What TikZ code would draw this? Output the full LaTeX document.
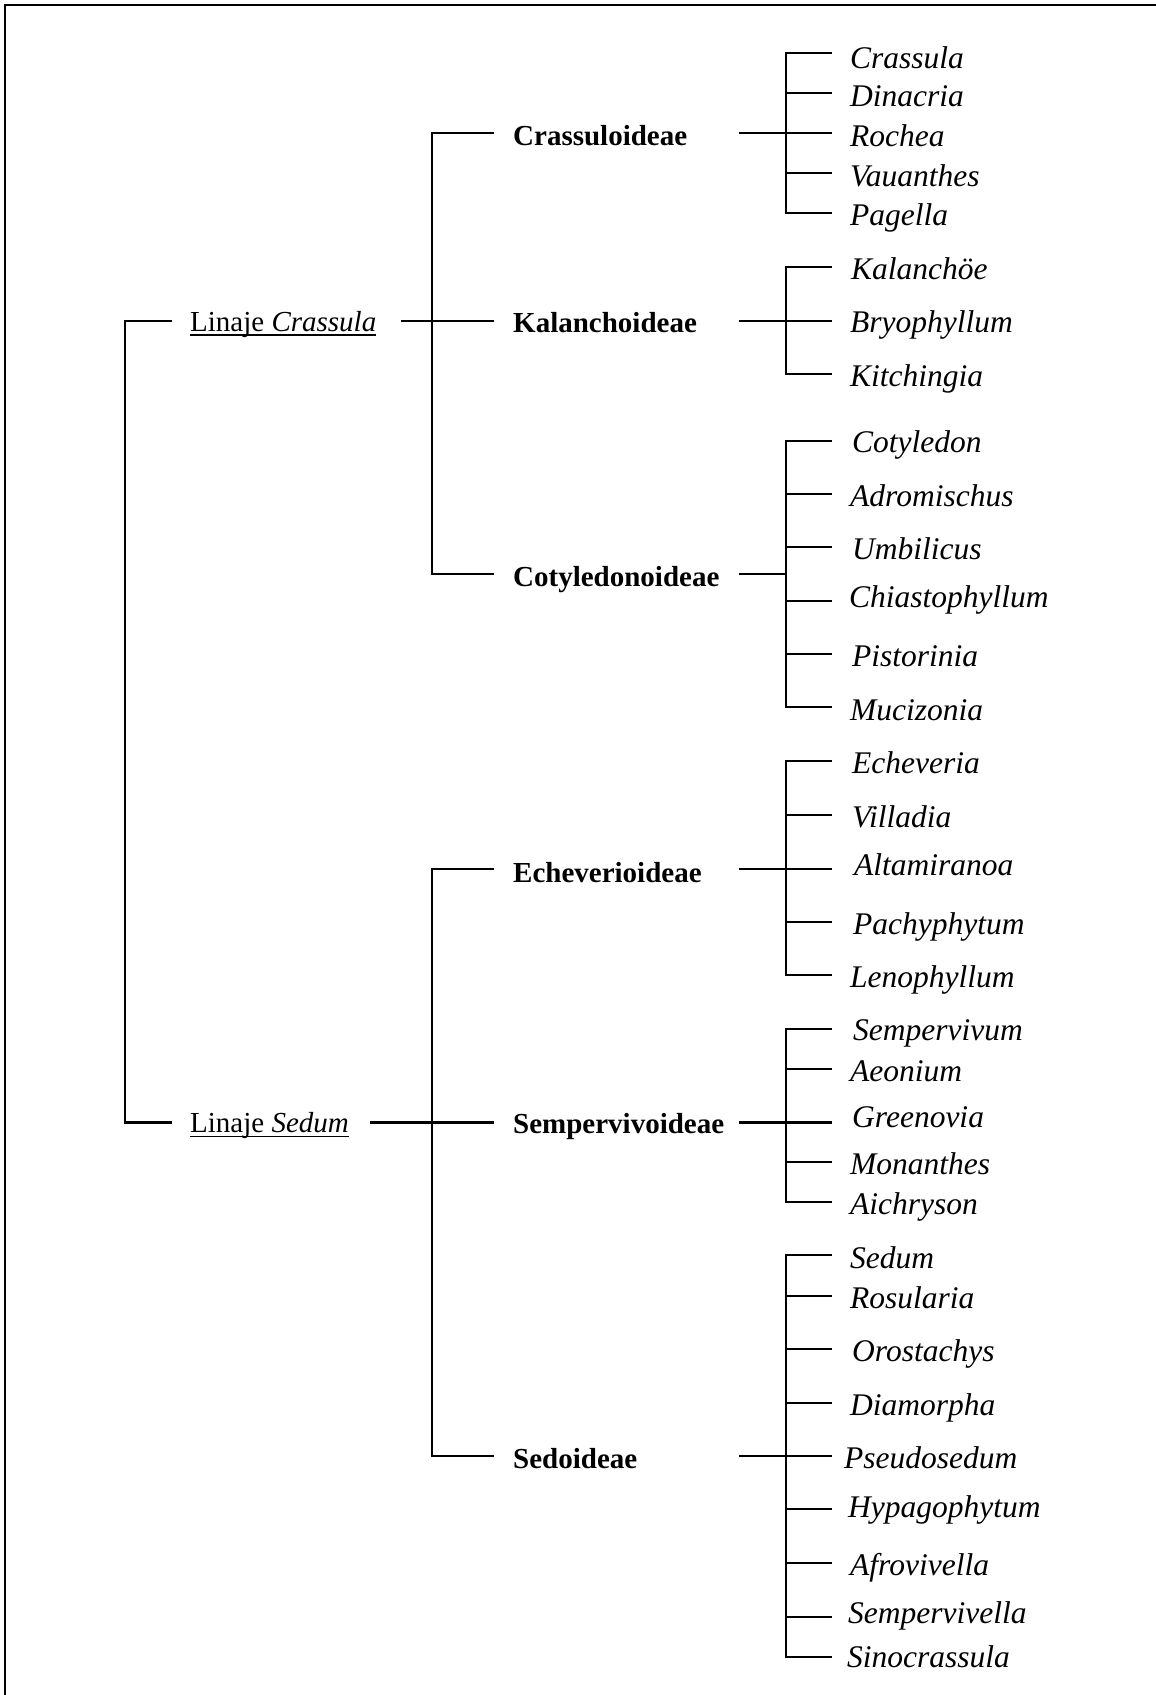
\documentclass[tikz,border=0pt]{standalone}
\usepackage{fontspec}
\setmainfont{Liberation Serif}
\begin{document}
\begin{tikzpicture}[x=1pt,y=-1pt,
  ln/.style={line width=2.2pt,line cap=rect},
  gen/.style={anchor=base west,inner sep=0pt,font=\fontsize{31.5}{36}\selectfont\itshape},
  sub/.style={anchor=base west,inner sep=0pt,font=\fontsize{29}{34}\selectfont\bfseries},
  lin/.style={anchor=base west,inner sep=0pt,font=\fontsize{29}{34}\selectfont}]
\useasboundingbox (0,0) rectangle (1156,1695);
% frame (top and left only)
\coordinate (fbl) at (5,1695);
\coordinate (ftl) at (5,5);
\coordinate (ftr) at (1156,5);
\draw[line width=2.6pt] (fbl) -- (ftl) -- (ftr);

% genera: id / tick y / text x / text dy / text
\foreach \id/\yy/\xx/\dy/\txt in {
  Crassula/53.3/850/15/Crassula, Dinacria/93.3/850/13/Dinacria, Rochea/133.3/850/13/Rochea,
  Vauanthes/173.3/850/13/Vauanthes, Pagella/213.3/850/12/Pagella,
  Kalanchoe/266.7/851/13/Kalanchöe, Bryophyllum/321/850/11.5/Bryophyllum, Kitchingia/374/850/12/Kitchingia,
  Cotyledon/440.7/852/12/Cotyledon, Adromischus/494/850/12/Adromischus, Umbilicus/547.3/852/12/Umbilicus,
  Chiastophyllum/600.7/849/6.5/Chiastophyllum, Pistorinia/654/852/12/Pistorinia, Mucizonia/707.3/850/13/Mucizonia,
  Echeveria/760.7/852/13/Echeveria, Villadia/814.7/852/13/Villadia, Altamiranoa/868.7/854/6.5/Altamiranoa,
  Pachyphytum/922/853/12/Pachyphytum, Lenophyllum/975.3/850/12/Lenophyllum,
  Sempervivum/1028.7/853/12/Sempervivum, Aeonium/1068.7/850/13/Aeonium, Greenovia/1122.5/852/4.5/Greenovia,
  Monanthes/1162/850/12/Monanthes, Aichryson/1202/850/12/Aichryson,
  Sedum/1255.3/850/13/Sedum, Rosularia/1296/850/12/Rosularia, Orostachys/1349.3/852/12/Orostachys,
  Diamorpha/1402.7/850/13/Diamorpha, Pseudosedum/1456/844/12/Pseudosedum, Hypagophytum/1509.3/848/8.5/Hypagophytum,
  Afrovivella/1562.7/850/13/Afrovivella, Sempervivella/1616.7/848/6.5/Sempervivella, Sinocrassula/1656.7/847/11/Sinocrassula}
{
  \coordinate (j-\id) at (786,\yy);
  \coordinate (t-\id) at (831,\yy);
  \node[gen] (n-\id) at (\xx,\yy+\dy) {\txt};
  \draw[ln] (j-\id) -- (t-\id);
}
\draw[ln] (j-Crassula) -- (j-Pagella);
\draw[ln] (j-Kalanchoe) -- (j-Kitchingia);
\draw[ln] (j-Cotyledon) -- (j-Mucizonia);
\draw[ln] (j-Echeveria) -- (j-Lenophyllum);
\draw[ln] (j-Sempervivum) -- (j-Aichryson);
\draw[ln] (j-Sedum) -- (j-Sinocrassula);

% subfamilies: id / line y / text dy
\foreach \id/\yy/\dy in {Crassuloideae/133.3/12, Kalanchoideae/321/11, Cotyledonoideae/574/12,
  Echeverioideae/868.7/14, Sempervivoideae/1122.5/11, Sedoideae/1456/12}
{
  \coordinate (sl-\id) at (432,\yy);
  \coordinate (sa-\id) at (493,\yy);
  \coordinate (sb-\id) at (740,\yy);
  \coordinate (sj-\id) at (786,\yy);
  \node[sub] (\id) at (513,\yy+\dy) {\id};
  \draw[ln] (sl-\id) -- (sa-\id);
  \draw[ln] (sb-\id) -- (sj-\id);
}
\draw[ln] (sl-Crassuloideae) -- (sl-Cotyledonoideae);
\draw[ln] (sl-Echeverioideae) -- (sl-Sedoideae);

% lineages
\coordinate (rc) at (125,321);
\coordinate (rs) at (125,1122.5);
\coordinate (rc2) at (171,321);
\coordinate (rs2) at (171,1122.5);
\node[lin] (lc) at (190,331) {Linaje \textit{Crassula}};
\node[lin] (ls) at (190,1132.5) {Linaje \textit{Sedum}};
\draw[line width=1.8pt] ([yshift=-4pt]lc.base west) -- ([yshift=-4pt]lc.base east);
\draw[line width=1.8pt] ([yshift=-4pt]ls.base west) -- ([yshift=-4pt]ls.base east);
\coordinate (lce) at (402,321);
\coordinate (lse) at (371,1122.5);
\draw[ln] (rc) -- (rs);
\draw[ln] (rc) -- (rc2);
\draw[ln] (rs) -- (rs2);
\draw[ln] (lce) -- (sl-Kalanchoideae);
\draw[ln] (lse) -- (sl-Sempervivoideae);
\end{tikzpicture}
\end{document}
